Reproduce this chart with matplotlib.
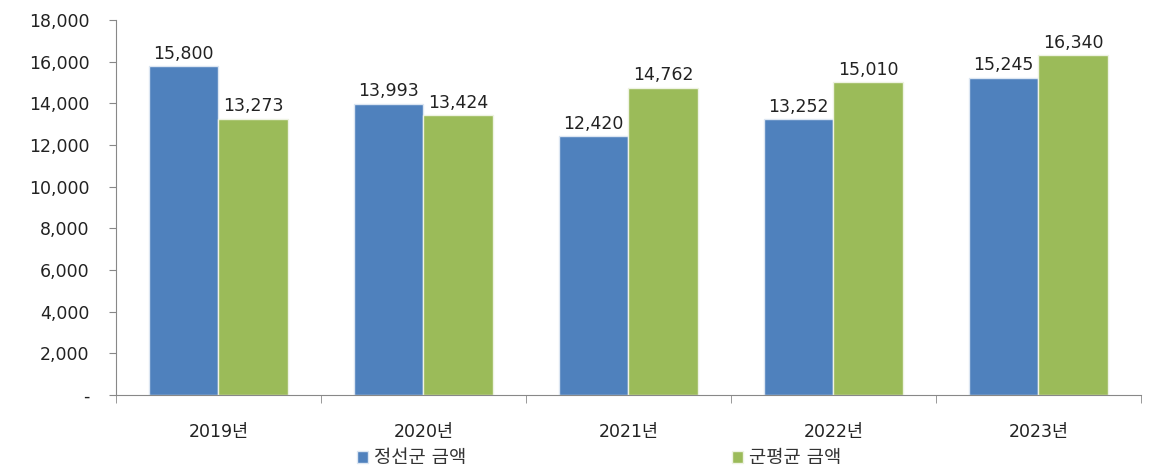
import matplotlib
matplotlib.use('Agg')
import matplotlib.pyplot as plt
import numpy as np
from matplotlib.ticker import FuncFormatter

plt.rcParams['font.family'] = ['DejaVu Sans', 'Noto Sans CJK KR']

# ====== DATOS ======
anos = ['2019년', '2020년', '2021년', '2022년', '2023년']
jeongseon = [15800, 13993, 12420, 13252, 15245]
gun_avg = [13273, 13424, 14762, 15010, 16340]
series_names = ['정선군 금액', '군평균 금액']

AZUL = '#4F81BD'
VERDE = '#9BBB59'

fig = plt.figure(figsize=(11.54, 4.70), dpi=100)
ax = fig.add_axes([0.1005, 0.16, 0.888, 0.797])

x = np.arange(len(anos))
w = 0.34
b1 = ax.bar(x - w/2, jeongseon, w, color=AZUL, edgecolor='#dce6f2', linewidth=1, label=series_names[0])
b2 = ax.bar(x + w/2, gun_avg, w, color=VERDE, edgecolor='#eef3e2', linewidth=1, label=series_names[1])

for barras in (b1, b2):
    for r in barras:
        v = r.get_height()
        ax.text(r.get_x() + r.get_width()/2, v + 150, f'{v:,.0f}', ha='center', va='bottom',
                fontsize=12.5, color='#222222')

ax.set_xlim(-0.5, len(anos) - 0.5)
ax.set_ylim(0, 18000)
ax.set_yticks(np.arange(0, 18001, 2000))
ax.yaxis.set_major_formatter(FuncFormatter(lambda v, p: '-' if v == 0 else f'{v:,.0f}'))

####Ejes####
ax.set_xticks(x)
ax.set_xticklabels(anos)
ax.set_xticks(np.arange(-0.5, len(anos)), minor=True)
ax.tick_params(axis='x', which='major', length=0, pad=20, labelsize=12.5, colors='#222222')
ax.tick_params(axis='x', which='minor', length=6, color='#888888', direction='out')
ax.tick_params(axis='y', length=5, color='#888888', labelsize=12.5, pad=14)
ax.tick_params(axis='y', colors='#888888', labelcolor='#222222')

for s in ['top', 'right']:
    ax.spines[s].set_visible(False)
for s in ['left', 'bottom']:
    ax.spines[s].set_color('#888888')

fig.legend(handles=[b1, b2], loc='center', bbox_to_anchor=(0.519, 0.026), ncol=2,
           frameon=False, fontsize=13.5, handlelength=0.6, handleheight=0.6,
           handletextpad=0.3, columnspacing=14.2, labelcolor='#333333')

fig.savefig('out.png', dpi=100)
